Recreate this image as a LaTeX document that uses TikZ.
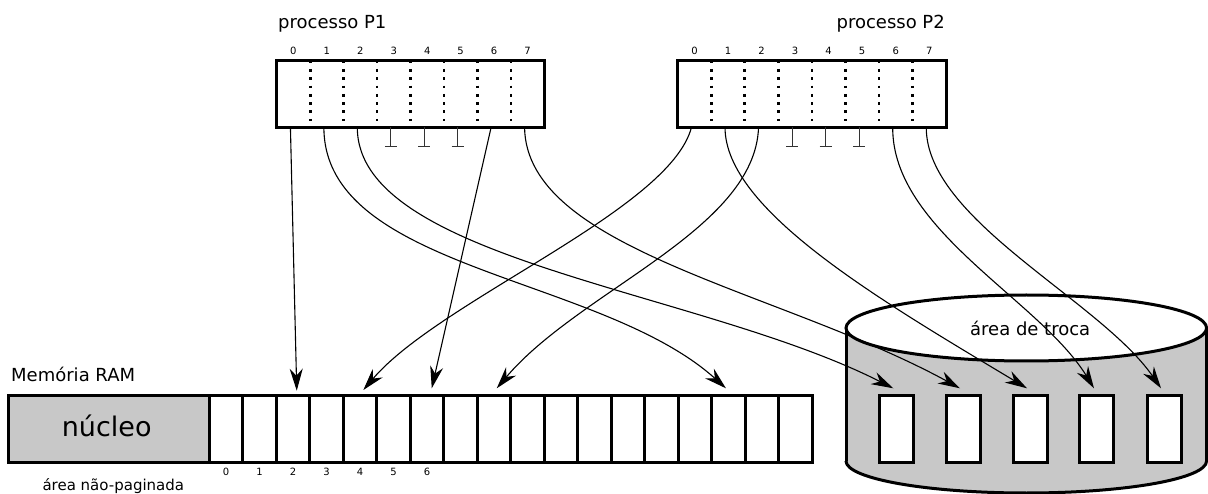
\documentclass[tikz,border=0pt]{standalone}
\usepackage{fontspec}
\setmainfont{DejaVu Sans}
\usetikzlibrary{arrows.meta,calc}
\definecolor{diskgray}{RGB}{200,200,200}
\begin{document}
\begin{tikzpicture}[x=1pt,y=-1pt,
  pcell/.style={rectangle,inner sep=0,outer sep=0,minimum width=33.45pt,minimum height=66.6pt},
  qcell/.style={rectangle,inner sep=0,outer sep=0,minimum width=33.54pt,minimum height=66.6pt},
  frame/.style={draw,line width=3pt},
  ramcell/.style={rectangle,draw,line width=3pt,fill=white,inner sep=0,outer sep=0,minimum width=33.5pt,minimum height=67.4pt},
  slot/.style={rectangle,draw,line width=3pt,fill=white,inner sep=0,outer sep=0,minimum width=34pt,minimum height=67pt},
  divider/.style={line width=2.7pt,dash pattern=on 2.7pt off 5.6pt},
  link/.style={line width=1.1pt},
  arrowlink/.style={link,-{Stealth[length=22pt,width=13pt,inset=7pt]}},
  nullp/.style={line width=1.1pt,draw=black!80},
  lbl/.style={font=\fontsize{18}{20}\selectfont,inner sep=0},
  big/.style={font=\fontsize{27}{30}\selectfont,inner sep=0},
  small/.style={font=\fontsize{15}{17}\selectfont,inner sep=0},
  num/.style={font=\fontsize{10}{12}\selectfont,inner sep=0}]
\useasboundingbox (0,0) rectangle (1208,494);

% ---------- process P1 ----------
\foreach \i in {0,...,7} {
  \node[pcell] (p1c\i) at ({276.7+33.45*(\i+0.5)},94) {};
  \node[num,anchor=base] (p1n\i) at ({276.7+33.45*(\i+0.5)},54.3) {\i};
}
\draw[frame] (p1c0.north west) rectangle (p1c7.south east);
\foreach \i in {1,...,7} \draw[divider] (p1c\i.north west) -- (p1c\i.south west);
\node[lbl,anchor=base west] (p1lbl) at (278,28.3) {processo P1};

% ---------- process P2 ----------
\foreach \i in {0,...,7} {
  \node[qcell] (p2c\i) at ({677.7+33.54*(\i+0.5)},94) {};
  \node[num,anchor=base] (p2n\i) at ({677.7+33.54*(\i+0.5)},54.3) {\i};
}
\draw[frame] (p2c0.north west) rectangle (p2c7.south east);
\foreach \i in {1,...,7} \draw[divider] (p2c\i.north west) -- (p2c\i.south west);
\node[lbl,anchor=base east] (p2lbl) at (945,28.3) {processo P2};

% ---------- null pointers ----------
\foreach \p in {p1,p2} \foreach \i in {3,4,5} {
  \draw[nullp] ([xshift=-3pt]\p c\i.south) -- ++(0,19) ++(-6,0) -- ++(12,0);
}

% ---------- RAM ----------
\node[lbl,anchor=base west] (ramlbl) at (11,381.7) {Memória RAM};
\node[rectangle,draw,fill=diskgray,line width=3pt,inner sep=0,outer sep=0,minimum width=201pt,minimum height=67.4pt] (nucleo) at (108.8,429) {};
\node[big,anchor=base] (nucleotxt) at (106.7,436) {núcleo};
\node[small,anchor=base] (naopag) at (113.3,490.5) {área não-paginada};
\foreach \i in {0,...,17} \node[ramcell] (r\i) at ({209.3+33.5*(\i+0.5)},429) {};
\foreach \i in {0,...,6} \node[num,anchor=base] (rn\i) at ({209.3+33.5*(\i+0.5)},475) {\i};

% ---------- swap disk ----------
\fill[diskgray] (846,328) rectangle (1206.6,461);
\fill[diskgray] (1026.3,461) ellipse [x radius=180.3, y radius=32];
\begin{scope}
  \clip (800,461) rectangle (1260,520);
  \draw[line width=3pt] (1026.3,461) ellipse [x radius=180.3, y radius=32];
\end{scope}
\draw[line width=3pt] (846,328) -- (846,461);
\draw[line width=3pt] (1206.6,328) -- (1206.6,461);
\draw[line width=3pt,fill=white] (1026.3,328) ellipse [x radius=180.3, y radius=33];
\node[lbl,anchor=base] (troca) at (1030.2,336) {área de troca};
\foreach \i/\x in {1/896.3,2/963.3,3/1030,4/1096.7,5/1164}
  \node[slot] (s\i) at (\x,429.2) {};

% ---------- mappings ----------
\draw[arrowlink] ([xshift=-3pt]p1c0.south) -- ([xshift=3.7pt,yshift=4.6pt]r2.north);
\draw[arrowlink] ([xshift=-3pt]p1c6.south) -- ([xshift=4.7pt,yshift=7pt]r6.north);
\draw[arrowlink] ([xshift=-3pt]p1c1.south) .. controls (324,270) and (600,275) .. ([xshift=-2.6pt,yshift=7pt]r15.north);
\draw[arrowlink] ([xshift=-3pt]p1c2.south) .. controls (357,260) and (700,290) .. ([xshift=-3pt,yshift=7.4pt]s1.north);
\draw[arrowlink] ([xshift=-3pt]p1c7.south) .. controls (526,250) and (780,290) .. ([xshift=-3.3pt,yshift=7.4pt]s2.north);

\draw[arrowlink] ([xshift=-3pt]p2c0.south) .. controls (670,210) and (440,300) .. ([xshift=3.3pt,yshift=5.3pt]r4.north);
\draw[arrowlink] ([xshift=-3pt]p2c2.south) .. controls (755,230) and (580,290) .. ([xshift=2.7pt,yshift=7pt]r8.north);
\draw[arrowlink] ([xshift=-3pt]p2c1.south) .. controls (725,210) and (880,300) .. ([xshift=-3pt,yshift=7.4pt]s3.north);
\draw[arrowlink] ([xshift=-3pt]p2c6.south) .. controls (892,230) and (1040,300) .. ([xshift=-2.7pt,yshift=7.4pt]s4.north);
\draw[arrowlink] ([xshift=-3pt]p2c7.south) .. controls (926,220) and (1100,300) .. ([xshift=-3pt,yshift=7.4pt]s5.north);
\end{tikzpicture}
\end{document}
